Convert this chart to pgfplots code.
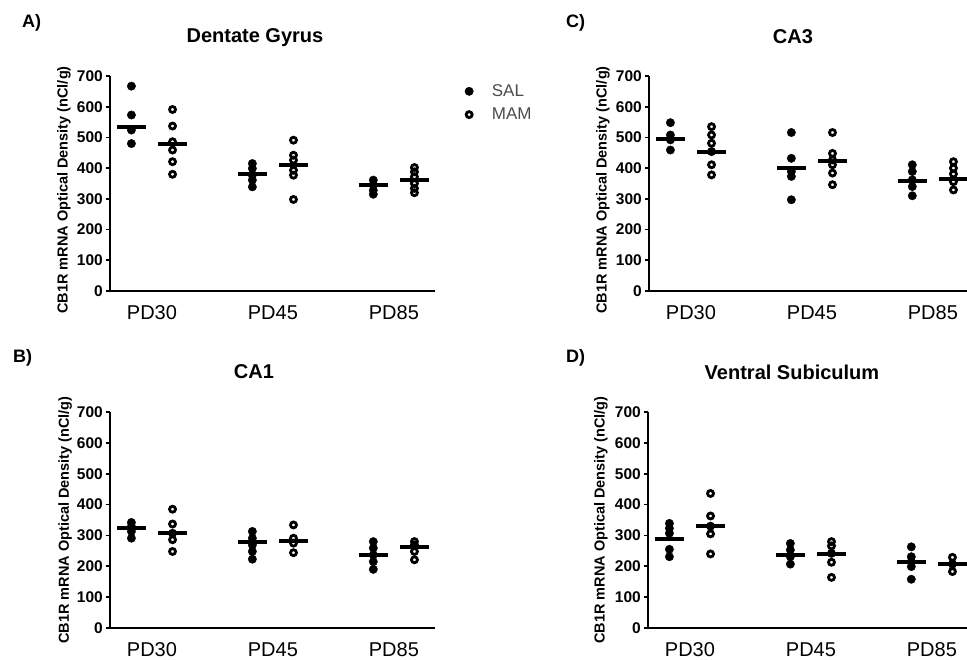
\documentclass[border=0pt]{standalone}
\usepackage{fontspec}
\setmainfont{Liberation Sans}
\usepackage{pgfplots}
\pgfplotsset{compat=1.18}

\newcommand{\px}[1]{\fontsize{#1}{#1}\selectfont}

\pgfplotsset{
  panel/.style={
    scale only axis, width=325pt, height=215pt,
    xmin=-0.347, xmax=2.34, ymin=0, ymax=700,
    axis x line=bottom, axis y line=left,
    axis line style={line width=1.8pt, -},
    xtick={0,1,2}, xticklabels={PD30,PD45,PD85},
    x tick style={draw=none},
    ytick={0,100,...,700},
    tick align=outside, major tick length=4pt,
    y tick style={line width=1.8pt, black},
    /pgf/number format/assume math mode=true,
    xticklabel style={font=\px{20}, inner sep=0pt, anchor=north,
      text height=14.5pt, text depth=0pt, yshift=-10pt},
    yticklabel style={font=\bfseries\px{15.5}, inner sep=0pt, xshift=-3pt},
    ylabel={CB1R mRNA Optical Density (nCl/g)},
    ylabel style={font=\bfseries\px{14.5}, anchor=center},
    title style={font=\bfseries\px{20}, anchor=center},
    clip=false,
  },
  sal/.style={only marks, mark=*, mark size=4.2pt, black,
    x filter/.expression={x-0.17}},
  mam/.style={only marks, mark=o, mark size=3pt, black,
    mark options={line width=2.8pt}, x filter/.expression={x+0.17}},
  salmean/.style={only marks, mark=-, mark size=14.5pt, black, forget plot,
    mark options={line width=4pt}, x filter/.expression={x-0.17}},
  mammean/.style={only marks, mark=-, mark size=14.5pt, black, forget plot,
    mark options={line width=4pt}, x filter/.expression={x+0.17}},
}

\begin{document}
\begin{tikzpicture}[x=1pt,y=1pt]
\useasboundingbox (0,0) rectangle (967,660);

% A) Dentate Gyrus
\begin{axis}[panel, at={(110pt,369pt)}, anchor=south west,
  title={Dentate Gyrus}, title style={at={(axis description cs:0.446,1.153)}},
  ylabel style={at={(axis description cs:-0.1415,0.47)}},
  legend style={at={(axis description cs:1.082,0.970)}, anchor=north west,
    draw=none, fill=none, font=\px{17}, text=black!70,
    nodes={inner sep=0pt}, row sep=10pt},
  legend cell align=left,
  legend image code/.code={
    \path[draw=none, fill=none] (0pt,-4pt) rectangle (27pt,4pt);
    \draw[#1] plot coordinates {(4.3pt,0pt)};}]
\addplot[sal] coordinates {(0,667)(0,573)(0,524)(0,480)
  (1,415)(1,399)(1,377)(1,361)(1,339) (2,361)(2,345)(2,328)(2,315)};
\addlegendentry{SAL}
\addplot[mam] coordinates {(0,591)(0,537)(0,486)(0,459)(0,421)(0,380)
  (1,491)(1,442)(1,426)(1,393)(1,377)(1,298)
  (2,402)(2,388)(2,372)(2,350)(2,334)(2,320)};
\addlegendentry{MAM}
\addplot[salmean] coordinates {(0,535)(1,380)(2,345)};
\addplot[mammean] coordinates {(0,478)(1,410)(2,361)};
\end{axis}

% C) CA3
\begin{axis}[panel, at={(649pt,369pt)}, anchor=south west,
  title={CA3}, title style={at={(axis description cs:0.443,1.153)}},
  ylabel style={at={(axis description cs:-0.1415,0.47)}}]
\addplot[sal] coordinates {(0,548)(0,508)(0,492)(0,459)
  (1,516)(1,432)(1,389)(1,373)(1,297)
  (2,411)(2,389)(2,362)(2,340)(2,310)};
\addplot[mam] coordinates {(0,535)(0,508)(0,481)(0,454)(0,411)(0,378)
  (1,516)(1,448)(1,427)(1,411)(1,384)(1,346)
  (2,421)(2,400)(2,381)(2,356)(2,329)};
\addplot[salmean] coordinates {(0,494)(1,402)(2,359)};
\addplot[mammean] coordinates {(0,454)(1,424)(2,366)};
\end{axis}

% B) CA1
\begin{axis}[panel, at={(110pt,32pt)}, anchor=south west, height=216pt,
  title={CA1}, title style={at={(axis description cs:0.443,1.157)}},
  ylabel style={at={(axis description cs:-0.138,0.5)}}]
\addplot[sal] coordinates {(0,342)(0,329)(0,313)(0,291)
  (1,313)(1,291)(1,269)(1,248)(1,223)
  (2,280)(2,259)(2,237)(2,215)(2,190)};
\addplot[mam] coordinates {(0,385)(0,337)(0,307)(0,286)(0,248)
  (1,334)(1,291)(1,275)(1,244)
  (2,280)(2,269)(2,248)(2,221)};
\addplot[salmean] coordinates {(0,323)(1,278)(2,237)};
\addplot[mammean] coordinates {(0,307)(1,283)(2,261)};
\end{axis}

% D) Ventral Subiculum
\begin{axis}[panel, at={(648pt,32pt)}, anchor=south west, height=216pt,
  title={Ventral Subiculum}, title style={at={(axis description cs:0.443,1.157)}},
  ylabel style={at={(axis description cs:-0.145,0.5)}}]
\addplot[sal] coordinates {(0,339)(0,323)(0,307)(0,255)(0,231)
  (1,274)(1,253)(1,231)(1,207)
  (2,263)(2,231)(2,215)(2,199)(2,158)};
\addplot[mam] coordinates {(0,436)(0,363)(0,330)(0,305)(0,240)
  (1,280)(1,266)(1,242)(1,213)(1,164)
  (2,229)(2,207)(2,183)};
\addplot[salmean] coordinates {(0,290)(1,236)(2,215)};
\addplot[mammean] coordinates {(0,330)(1,240)(2,207)};
\end{axis}

\node[anchor=base west, inner sep=0pt, font=\bfseries\px{18}] at (22,632) {A)};
\node[anchor=base west, inner sep=0pt, font=\bfseries\px{18}] at (566,632) {C)};
\node[anchor=base west, inner sep=0pt, font=\bfseries\px{18}] at (13,297) {B)};
\node[anchor=base west, inner sep=0pt, font=\bfseries\px{18}] at (566,297) {D)};
\end{tikzpicture}
\end{document}
